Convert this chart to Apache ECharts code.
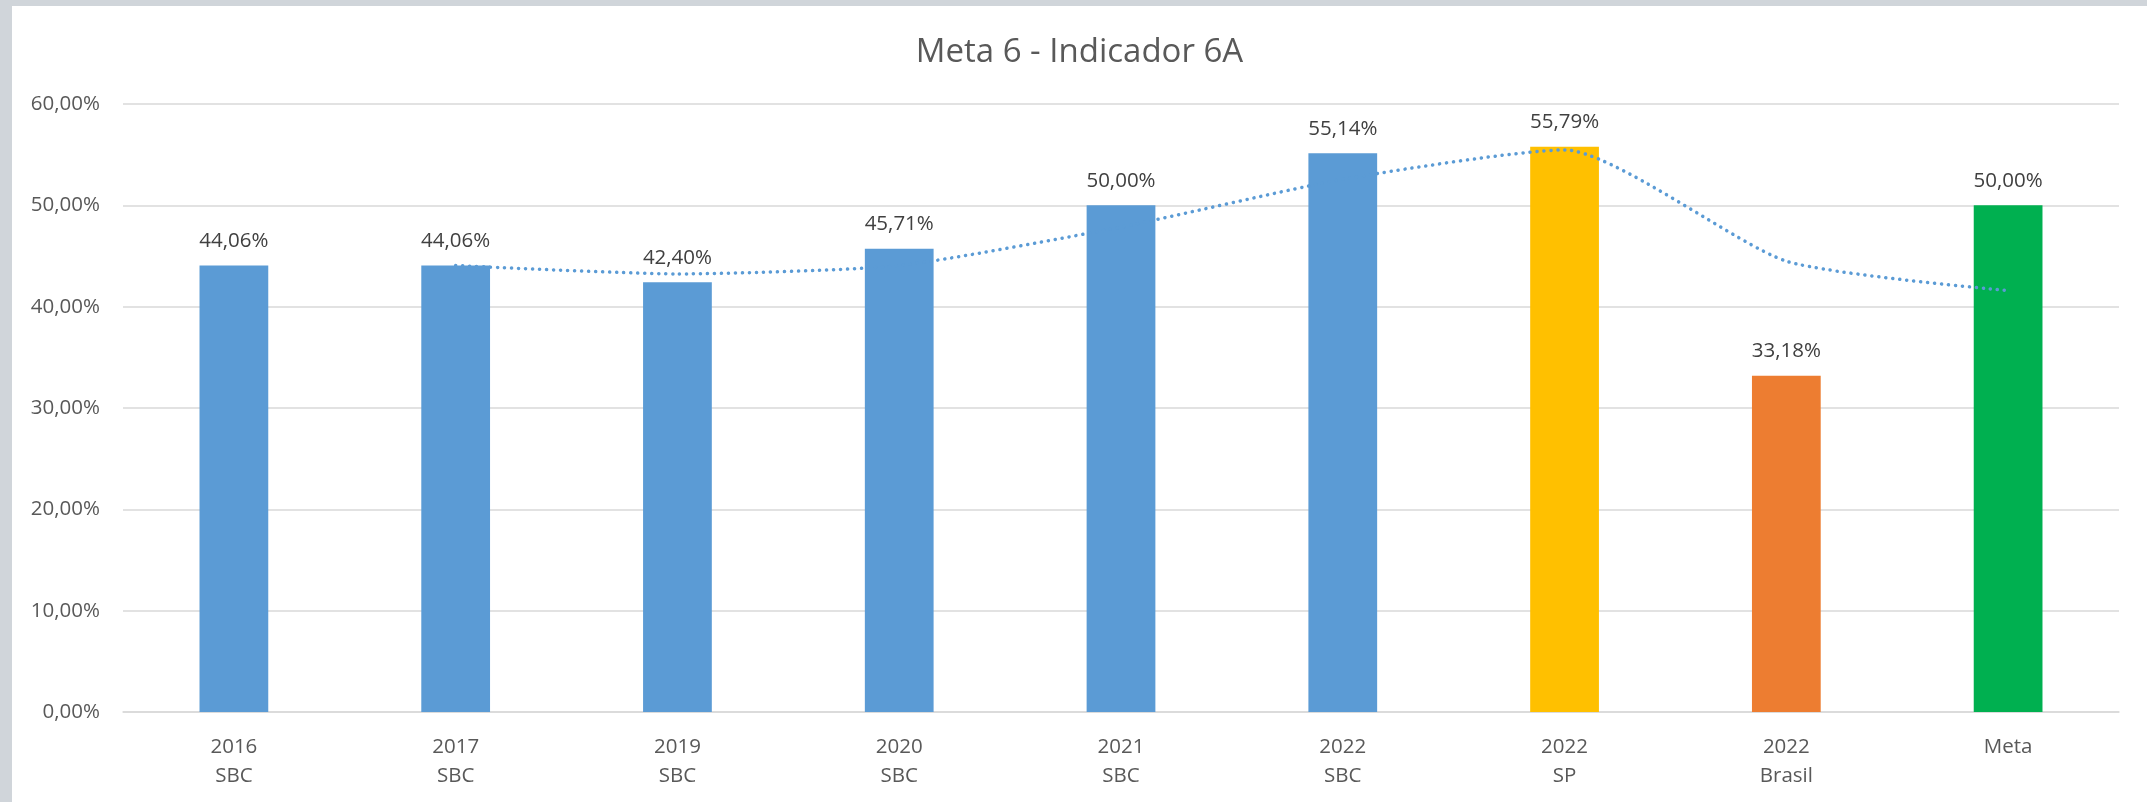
<!DOCTYPE html>
<html>
<head>
<meta charset="utf-8">
<title>Meta 6 - Indicador 6A</title>
<script src="https://cdn.jsdelivr.net/npm/echarts@6/dist/echarts.min.js"></script>
<style>
    html, body { margin: 0; padding: 0; background: #d0d5da; overflow: hidden; }
    #chart { position: absolute; left: 12px; top: 6px; width: 2135px; height: 796px; background: #fff; }
</style>
</head>
<body>
<div id="chart"></div>
<script>
// dados
const categorias = ['2016\nSBC', '2017\nSBC', '2019\nSBC', '2020\nSBC', '2021\nSBC', '2022\nSBC', '2022\nSP', '2022\nBrasil', 'Meta'];
const valores = [44.06, 44.06, 42.40, 45.71, 50.00, 55.14, 55.79, 33.18, 50.00];
const coresBarras = ['#5b9bd5', '#5b9bd5', '#5b9bd5', '#5b9bd5', '#5b9bd5', '#5b9bd5', '#ffc000', '#ed7d31', '#00b050'];
// linha de tendência (média móvel, pontilhada)
const tendencia = [null, 44.06, 43.23, 44.06, 47.86, 52.57, 55.47, 44.49, 41.59];
const ticksY = [0, 10, 20, 30, 40, 50, 60];

(function () {
    let myChart = echarts.init(document.getElementById('chart'));
    const fonte = '"Open Sans", "Noto Sans", sans-serif';
    const pct = v => v.toFixed(2).replace('.', ',') + '%';

    let option = {
        animation: false,
        textStyle: { fontFamily: fonte },
        title: {
            text: 'Meta 6 - Indicador 6A',
            left: 'center',
            top: 25,
            textStyle: { color: '#595959', fontSize: 33, fontWeight: 'normal', fontFamily: fonte }
        },
        grid: { left: 111, right: 28, top: 98, bottom: 90, containLabel: false },
        xAxis: {
            type: 'category',
            data: categorias,
            axisTick: { show: false },
            axisLine: { lineStyle: { color: '#d9d9d9', width: 1.5 } },
            axisLabel: { color: '#595959', fontSize: 20.5, lineHeight: 29, margin: 21 }
        },
        yAxis: {
            type: 'value',
            min: ticksY[0],
            max: ticksY[ticksY.length - 1],
            interval: 10,
            axisLine: { show: false },
            axisTick: { show: false },
            axisLabel: { color: '#595959', fontSize: 20.5, margin: 23, padding: [3, 0, 0, 0], formatter: v => pct(v) },
            splitLine: { lineStyle: { color: '#d9d9d9', width: 1.5 } }
        },
        series: [
            {
                type: 'bar',
                barWidth: '31%',
                data: valores.map((v, i) => ({ value: v, itemStyle: { color: coresBarras[i] } })),
                label: {
                    show: true,
                    position: 'top',
                    distance: 14,
                    color: '#404040',
                    fontSize: 20.5,
                    formatter: p => pct(p.value)
                },
                z: 2
            },
            {
                type: 'line',
                data: tendencia,
                smooth: 0.2,
                symbol: 'none',
                connectNulls: false,
                lineStyle: { color: '#5b9bd5', width: 3.5, type: [0.1, 6.9], cap: 'round' },
                z: 5
            }
        ]
    };
    myChart.setOption(option);

    window.addEventListener('resize', function () {
        myChart.resize();
    });
})();
</script>
</body>
</html>
